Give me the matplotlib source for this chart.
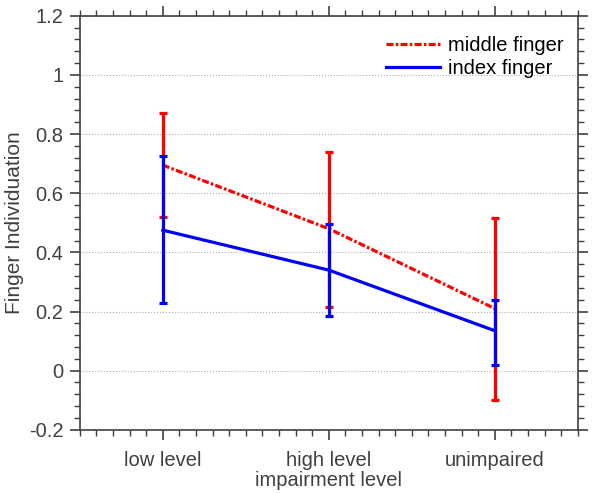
import matplotlib
matplotlib.use("Agg")
import matplotlib.pyplot as plt
from matplotlib.ticker import MultipleLocator
from matplotlib.lines import Line2D

plt.rcParams['font.family'] = 'Liberation Sans'

levels = ["low level", "high level", "unimpaired"]
middle_mean = [0.695, 0.48, 0.21]
middle_low = [0.52, 0.215, -0.10]
middle_high = [0.87, 0.74, 0.515]
index_mean = [0.475, 0.34, 0.135]
index_low = [0.23, 0.185, 0.02]
index_high = [0.725, 0.495, 0.24]

x = [1, 2, 3]
txt = '#404040'
dash = (0, (2.2, 0.7, 0.8, 0.7))

fig = plt.figure(figsize=(6, 4.94), dpi=100)
ax = fig.add_axes([0.133, 0.13, 0.83, 0.838])

m_err = [[m - l for m, l in zip(middle_mean, middle_low)],
         [h - m for m, h in zip(middle_mean, middle_high)]]
i_err = [[m - l for m, l in zip(index_mean, index_low)],
         [h - m for m, h in zip(index_mean, index_high)]]

ax.errorbar(x, middle_mean, yerr=m_err, color='red', lw=2.3, ls=dash,
            capsize=3, capthick=2.3, elinewidth=2.3, zorder=3)
ax.errorbar(x, index_mean, yerr=i_err, color='blue', lw=2.3, capsize=3, capthick=2.3,
            elinewidth=2.3, zorder=4)

ax.set_xlim(0.5, 3.5)
ax.set_ylim(-0.2, 1.2)
ax.set_xticks(x)
ax.set_xticklabels(levels)
ax.set_yticks([-0.2, 0, 0.2, 0.4, 0.6, 0.8, 1.0, 1.2])
ax.set_yticklabels(['-0.2', '0', '0.2', '0.4', '0.6', '0.8', '1', '1.2'])
ax.xaxis.set_minor_locator(MultipleLocator(0.1))
ax.yaxis.set_minor_locator(MultipleLocator(0.04))
ax.tick_params(which='both', direction='out', top=True, right=True, colors='#404040',
               labelsize=14.5, labelcolor=txt)
ax.tick_params(which='major', length=7, width=1.2, pad=5)
ax.tick_params(axis='x', which='major', pad=8)
ax.tick_params(which='minor', length=4, width=1)
for s in ax.spines.values():
    s.set_color('#404040')
    s.set_linewidth(1.2)
ax.yaxis.grid(True, ls=':', color='#b0b0b0', lw=0.8)
ax.set_axisbelow(True)

ax.set_ylabel('Finger Individuation', fontsize=15, color=txt, labelpad=3)
ax.set_xlabel('impairment level', fontsize=14.5, color=txt, labelpad=1)

handles = [Line2D([], [], color='red', lw=2.3, ls=dash),
           Line2D([], [], color='blue', lw=2.3)]
leg = ax.legend(handles, ['middle finger', 'index finger'], loc='upper right',
                bbox_to_anchor=(1.012, 1.0), frameon=False, fontsize=14.5,
                handlelength=2.7, handletextpad=0.4, labelspacing=0.2, borderaxespad=0.6)

fig.savefig('out.png', dpi=100)
